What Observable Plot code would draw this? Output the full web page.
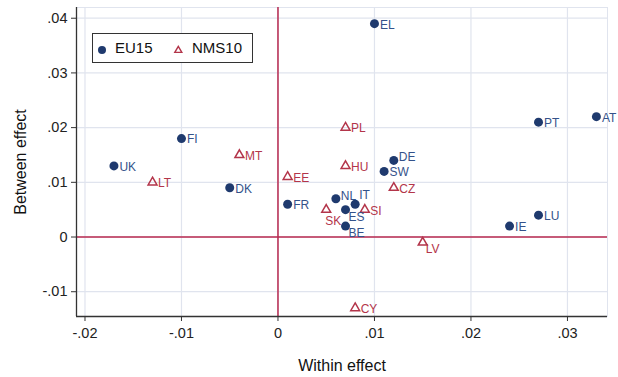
<!DOCTYPE html>
<html>
<head>
<meta charset="utf-8">
<script src="https://cdn.jsdelivr.net/npm/d3@7"></script>
<script src="https://cdn.jsdelivr.net/npm/@observablehq/plot@0.6"></script>
<style>
  html, body { margin: 0; padding: 0; background: #fff; }
  #wrap { position: relative; width: 618px; height: 377px; font-family: "Liberation Sans", Arial, sans-serif; }
  #legend { position: absolute; left: 92px; top: 33px; width: 159px; height: 28px; border: 1px solid #333; background: #fff;
            font-size: 15px; color: #111; }
  #legend span { position: absolute; top: 5px; }
</style>
</head>
<body>
<div id="wrap">
  <div id="chart"></div>
  <div id="legend">
    <svg width="159" height="28" style="position:absolute;left:0;top:0">
      <circle cx="9" cy="16" r="4" fill="#1f3a6e"></circle>
      <path d="M85.3,12.4 L88.8,18.4 L81.8,18.4 Z" fill="none" stroke="#b3354a" stroke-width="1.4"></path>
    </svg>
    <span style="left:22px">EU15</span>
    <span style="left:99px">NMS10</span>
  </div>
</div>
<script>
// ---- data ----
const eu15Codes   = ["EL","PT","AT","DE","SW","NL","IT","ES","BE","IE","LU","FR","DK","FI","UK"];
const eu15Within  = [0.010,0.027,0.033,0.012,0.011,0.006,0.008,0.007,0.007,0.024,0.027,0.001,-0.005,-0.010,-0.017];
const eu15Between = [0.039,0.021,0.022,0.014,0.012,0.007,0.006,0.005,0.002,0.002,0.004,0.006,0.009,0.018,0.013];

const nmsCodes    = ["PL","HU","CZ","SK","SI","LV","CY","MT","LT","EE"];
const nmsWithin   = [0.007,0.007,0.012,0.005,0.009,0.015,0.008,-0.004,-0.013,0.001];
const nmsBetween  = [0.020,0.013,0.009,0.005,0.005,-0.001,-0.013,0.015,0.010,0.011];

const xTicks      = [-0.02,-0.01,0,0.01,0.02,0.03];
const xTickLabels = ["-.02","-.01","0",".01",".02",".03"];
const yTicks      = [-0.01,0,0.01,0.02,0.03,0.04];
const yTickLabels = ["-.01","0",".01",".02",".03",".04"];

// label placement (clock position, like Stata mlabvposition); default 3
const labelClock = {NL: 2, DE: 2, IT: 1, ES: 4, BE: 4, SK: 5, LV: 4};

// ---- build ----
const eu15 = eu15Codes.map((c, i) => ({code: c, x: eu15Within[i], y: eu15Between[i]}));
const nms  = nmsCodes.map((c, i) => ({code: c, x: nmsWithin[i], y: nmsBetween[i]}));
const offs = {3: [5.5, 1], 2: [5, -3], 1: [4, -9], 4: [3, 7], 5: [-1, 11]};
const withOff = arr => arr.map(d => {
  const o = offs[labelClock[d.code] || 3];
  return {...d, dx: o[0], dy: o[1]};
});
const fmtX = d => xTickLabels[xTicks.findIndex(t => Math.abs(t - d) < 1e-9)];
const fmtY = d => yTickLabels[yTicks.findIndex(t => Math.abs(t - d) < 1e-9)];

const navy = "#1f3a6e", navyLab = "#34528a", red = "#b3354a", refRed = "#b8294f", grid = "#e0e4ee";

const labelMarks = (data, fill) => {
  const groups = d3.groups(withOff(data), d => d.dx + "," + d.dy);
  return groups.map(([k, g]) => Plot.text(g, {
    x: "x", y: "y", text: "code", dx: g[0].dx, dy: g[0].dy,
    textAnchor: "start", fill, fontSize: 12
  }));
};

const chart = Plot.plot({
  width: 618, height: 377,
  marginLeft: 76, marginRight: 11, marginTop: 7, marginBottom: 61,
  style: {fontFamily: "'Liberation Sans', Arial, sans-serif", fontSize: "14px", color: "#222", background: "#fff"},
  x: {domain: [-0.02088, 0.03415]},
  y: {domain: [-0.01453, 0.04196]},
  marks: [
    Plot.frame({stroke: grid}),
    Plot.gridX({ticks: xTicks, stroke: grid, strokeOpacity: 1, strokeWidth: 1.2}),
    Plot.gridY({ticks: yTicks, stroke: grid, strokeOpacity: 1, strokeWidth: 1.2}),
    Plot.ruleX([0], {stroke: refRed, strokeWidth: 1.5}),
    Plot.ruleY([0], {stroke: refRed, strokeWidth: 1.5}),
    Plot.axisX({ticks: xTicks, tickFormat: fmtX, tickSize: 5, tickPadding: 6, fontSize: 14.5, stroke: "#333",
      label: "Within effect", labelAnchor: "center", labelArrow: "none", labelOffset: 54}),
    Plot.axisY({ticks: yTicks, tickFormat: fmtY, tickSize: 5, tickPadding: 4, fontSize: 14.5, stroke: "#333",
      label: "Between effect", labelAnchor: "center", labelArrow: "none", labelOffset: 62}),
    Plot.ruleX([-0.02088], {stroke: "#333", strokeWidth: 1.3}),
    Plot.ruleY([-0.01453], {stroke: "#333", strokeWidth: 1.3}),
    Plot.dot(eu15, {x: "x", y: "y", r: 4.5, fill: navy, stroke: "none"}),
    Plot.dot(nms, {x: "x", y: "y", symbol: "triangle", r: 3.3, stroke: red, strokeWidth: 1.5, fill: "none"}),
    ...labelMarks(eu15, navyLab),
    ...labelMarks(nms, red)
  ]
});
chart.querySelectorAll('g[aria-label="x-axis label"], g[aria-label="y-axis label"]').forEach(g => {
  g.setAttribute("font-size", "16");
  g.style.fontSize = "16px";
  g.setAttribute("fill", "#111");
});
document.getElementById("chart").appendChild(chart);
</script>
</body>
</html>
